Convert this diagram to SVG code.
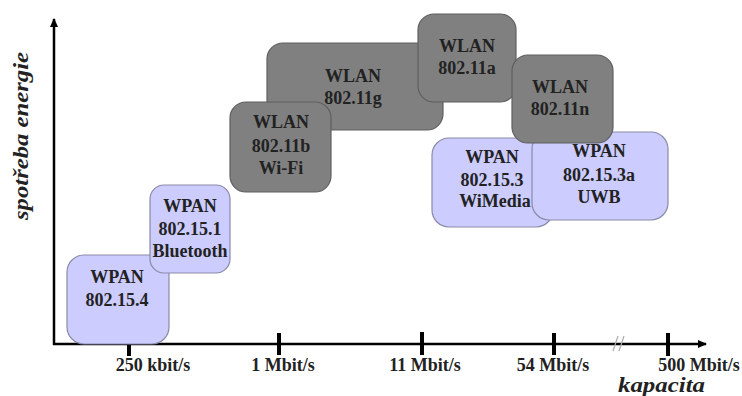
<svg xmlns="http://www.w3.org/2000/svg" width="742" height="396" viewBox="0 0 742 396">
<defs>
<style>
.dark rect{fill:#808080;stroke:#5f5f5f;stroke-width:1.2}
.light rect{fill:#ccccff;stroke:#8a8aa8;stroke-width:1.2}
.n text{font-family:"Liberation Serif",serif;font-weight:bold;font-size:18px;fill:#222;text-anchor:middle}
.ax{stroke:#000;stroke-width:2.5;fill:none}
.tick{stroke:#000;stroke-width:4}
.tl{font-family:"Liberation Serif",serif;font-weight:bold;font-size:18px;fill:#222;text-anchor:middle}
.al{font-family:"Liberation Serif",serif;font-weight:bold;font-style:italic;font-size:21px;fill:#222}
</style>
<marker id="arr" markerWidth="10" markerHeight="10" refX="8" refY="5" orient="auto" markerUnits="userSpaceOnUse">
<path d="M0,1 L9,5 L0,9 Z" fill="#000"/>
</marker>
</defs>
<rect width="742" height="396" fill="#fff"/>
<g id="connectors">
<line class="ax" x1="54" y1="345" x2="54" y2="19" marker-end="url(#arr)"/>
<line class="ax" x1="53" y1="344" x2="706" y2="344" marker-end="url(#arr)"/>
<line class="tick" x1="129" y1="333" x2="129" y2="356"/>
<line class="tick" x1="279" y1="333" x2="279" y2="355"/>
<line class="tick" x1="422" y1="332" x2="422" y2="355"/>
<line class="tick" x1="554" y1="333" x2="554" y2="355"/>
<line class="tick" x1="668" y1="333" x2="668" y2="356"/>
<path d="M613,351 L618,336 M619,351 L624,336" stroke="#aaa" stroke-width="1.2"/>
</g>
<text class="tl" x="153" y="371">250 kbit/s</text>
<text class="tl" x="283" y="371">1 Mbit/s</text>
<text class="tl" x="425" y="371">11 Mbit/s</text>
<text class="tl" x="553" y="371">54 Mbit/s</text>
<text class="tl" x="699" y="371">500 Mbit/s</text>
<text class="al" x="618" y="392" textLength="87" lengthAdjust="spacingAndGlyphs">kapacita</text>
<text class="al" text-anchor="middle" transform="translate(28,136) rotate(-90)" textLength="168" lengthAdjust="spacingAndGlyphs">spotřeba energie</text>
<g id="n154" class="n light"><rect x="67" y="255" width="102" height="89" rx="17"/><text x="117" y="283">WPAN</text><text x="117" y="306">802.15.4</text></g>
<g id="n151" class="n light"><rect x="150" y="185" width="80" height="88" rx="14"/><text x="190" y="212">WPAN</text><text x="190" y="235">802.15.1</text><text x="190" y="257">Bluetooth</text></g>
<g id="n11g" class="n dark"><rect x="267" y="43" width="176" height="87" rx="16"/><text x="353" y="82">WLAN</text><text x="353" y="104">802.11g</text></g>
<g id="n11b" class="n dark"><rect x="230" y="102" width="101" height="90" rx="16"/><text x="281" y="128">WLAN</text><text x="281" y="152">802.11b</text><text x="281" y="174">Wi-Fi</text></g>
<g id="n11a" class="n dark"><rect x="418" y="14" width="98" height="88" rx="16"/><text x="467" y="52">WLAN</text><text x="467" y="74">802.11a</text></g>
<g id="n153" class="n light"><rect x="432" y="138" width="121" height="89" rx="17"/><text x="492" y="163">WPAN</text><text x="492" y="186">802.15.3</text><text x="495" y="207">WiMedia</text></g>
<g id="n153a" class="n light"><rect x="532" y="132" width="136" height="88" rx="17"/><text x="599" y="157">WPAN</text><text x="599" y="181">802.15.3a</text><text x="599" y="203">UWB</text></g>
<g id="n11n" class="n dark"><rect x="512" y="55" width="101" height="88" rx="16"/><text x="560" y="93">WLAN</text><text x="560" y="115">802.11n</text></g>
</svg>
